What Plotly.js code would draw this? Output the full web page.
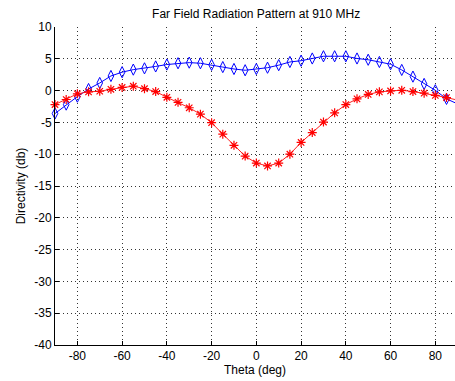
<!DOCTYPE html>
<html><head><meta charset="utf-8">
<script src="https://cdn.plot.ly/plotly-3.0.1.min.js"></script>
<style>html,body{margin:0;padding:0;background:#fff;overflow:hidden}</style>
</head><body><div id="chart" style="width:455px;height:381px"></div>
<script>
const theta = [-90,-85,-80,-75,-70,-65,-60,-55,-50,-45,-40,-35,-30,-25,-20,-15,-10,-5,0,5,10,15,20,25,30,35,40,45,50,55,60,65,70,75,80,85,90];
const blueSeries = [-3.6,-2.2,-0.95,0.25,1.2,2.3,2.9,3.3,3.5,3.8,4.1,4.3,4.4,4.3,4.05,3.7,3.4,3.2,3.4,3.6,4.0,4.5,4.7,5.05,5.4,5.4,5.4,5.05,4.85,4.5,4.15,3.25,2.2,1.05,0.05,-1.3,-2.1];
const redSeries = [-2.2,-1.4,-0.5,-0.2,-0.1,0.2,0.5,0.7,0.3,-0.15,-1.05,-1.85,-2.7,-3.7,-5.05,-6.85,-8.6,-10.3,-11.4,-11.85,-11.4,-10.0,-8.15,-6.6,-4.95,-3.5,-2.2,-1.3,-0.6,-0.2,-0.05,0.05,-0.15,-0.4,-0.75,-1.1,-1.5];
const xTicks = [-80,-60,-40,-20,0,20,40,60,80];
const yTicks = [10,5,0,-5,-10,-15,-20,-25,-30,-35,-40];

const font = {family:'"Liberation Sans", Arial, sans-serif', size:12, color:'#000'};
const data = [
  {x: theta, y: blueSeries, mode:'lines+markers', cliponaxis:false,
   line:{color:'#0000ff', width:1},
   marker:{symbol:'diamond-tall-open', size:8, color:'#0000ff', line:{width:1, color:'#0000ff'}}},
  {x: theta, y: redSeries, mode:'lines+markers', cliponaxis:false,
   line:{color:'#ff2020', width:1},
   marker:{symbol:'asterisk-open', size:7.5, color:'#ff0000', line:{width:1.2, color:'#ff0000'}}}
];
const gridDash = '1px,3px';
const layout = {
  width:455, height:381, showlegend:false,
  paper_bgcolor:'#fff', plot_bgcolor:'#fff', font: font,
  margin:{l:55, r:0, t:27, b:36},
  title:{text:'Far Field Radiation Pattern at 910 MHz', font:font, x:0.563, xanchor:'center', y:0.965, yanchor:'middle'},
  xaxis:{range:[-90,88.8], tickvals:xTicks, ticktext:xTicks.map(String), ticks:'inside', ticklen:4, tickcolor:'#000',
    showgrid:true, gridcolor:'#333', griddash:gridDash, gridwidth:1, zeroline:false,
    showline:true, linecolor:'#000', linewidth:1, tickfont:font,
    title:{text:'Theta (deg)', font:font, standoff:3}},
  yaxis:{range:[-40,10], tickvals:yTicks, ticktext:yTicks.map(String), ticks:'inside', ticklen:4, tickcolor:'#000',
    showgrid:true, gridcolor:'#333', griddash:gridDash, gridwidth:1, zeroline:false,
    showline:true, linecolor:'#000', linewidth:1, tickfont:font,
    title:{text:'Directivity (db)', font:font, standoff:6}}
};
Plotly.newPlot('chart', data, layout, {displayModeBar:false, staticPlot:true});
</script></body></html>
